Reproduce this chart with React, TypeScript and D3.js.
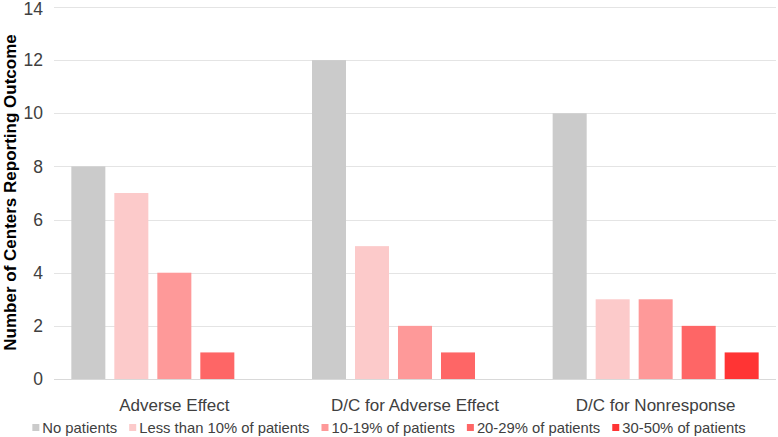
import React, { useEffect, useRef } from "react";
import * as d3 from "d3";

const categories = ["Adverse Effect", "D/C for Adverse Effect", "D/C for Nonresponse"];
const seriesNames = [
  "No patients",
  "Less than 10% of patients",
  "10-19% of patients",
  "20-29% of patients",
  "30-50% of patients",
];
const noPatients = [8, 12, 10];
const lessThan10 = [7, 5, 3];
const pct10to19 = [4, 2, 3];
const pct20to29 = [1, 1, 2];
const pct30to50 = [0, 0, 1];
const seriesColors = ["#cbcbcb", "#fccaca", "#fe9999", "#fe6666", "#ff3434"];
const yTicks = [0, 2, 4, 6, 8, 10, 12, 14];

const W = 778;
const H = 437;
const FONT = "'Liberation Sans', Arial, sans-serif";

export default function App() {
  const ref = useRef<SVGSVGElement>(null);

  useEffect(() => {
    const svg = d3.select(ref.current);
    svg.selectAll("*").remove();
    const seriesValues = [noPatients, lessThan10, pct10to19, pct20to29, pct30to50];

    const left = 54, right = 776, top = 7, bottom = 379;
    const y = d3.scaleLinear().domain([0, 14]).range([bottom, top]);
    const x0 = d3.scaleBand<string>().domain(categories).range([left, right]);
    const x1 = d3
      .scaleBand<string>()
      .domain(seriesNames)
      .range([0, x0.bandwidth()])
      .paddingInner(0.209)
      .paddingOuter(0.403);

    // gridlines
    svg
      .append("g")
      .selectAll("line")
      .data(yTicks)
      .join("line")
      .attr("x1", left)
      .attr("x2", right)
      .attr("y1", (d) => Math.round(y(d)) + 0.5)
      .attr("y2", (d) => Math.round(y(d)) + 0.5)
      .attr("stroke", (d) => (d === 0 ? "#d9d9d9" : "#e4e4e4"))
      .attr("stroke-width", 1);

    // tick labels
    svg
      .append("g")
      .selectAll("text")
      .data(yTicks)
      .join("text")
      .attr("x", 43)
      .attr("y", (d) => Math.max(y(d), 9))
      .attr("dy", "0.35em")
      .attr("text-anchor", "end")
      .attr("font-family", FONT)
      .attr("font-size", 17.5)
      .attr("fill", "#404040")
      .text((d) => String(d));

    // bars
    const g = svg
      .append("g")
      .selectAll("g")
      .data(categories)
      .join("g")
      .attr("transform", (c) => `translate(${x0(c)},0)`);
    g.selectAll("rect")
      .data((c) =>
        seriesNames.map((s, si) => ({ s, si, v: seriesValues[si][categories.indexOf(c)] }))
      )
      .join("rect")
      .attr("x", (d) => x1(d.s)!)
      .attr("width", x1.bandwidth())
      .attr("y", (d) => y(d.v))
      .attr("height", (d) => y(0) - y(d.v))
      .attr("fill", (d) => seriesColors[d.si]);

    // category labels
    svg
      .append("g")
      .selectAll("text")
      .data(categories)
      .join("text")
      .attr("x", (c) => x0(c)! + x0.bandwidth() / 2)
      .attr("y", 405)
      .attr("dy", "0.35em")
      .attr("text-anchor", "middle")
      .attr("font-family", FONT)
      .attr("font-size", 17)
      .attr("fill", "#404040")
      .text((c) => c);

    // y title
    svg
      .append("text")
      .attr("transform", `translate(10,${(33 + 352) / 2}) rotate(-90)`)
      .attr("dy", "0.35em")
      .attr("text-anchor", "middle")
      .attr("font-family", FONT)
      .attr("font-size", 17)
      .attr("font-weight", "bold")
      .attr("fill", "#000")
      .text("Number of Centers Reporting Outcome");

    // legend
    const legend = svg.append("g");
    const items: { w: number; node: any }[] = [];
    seriesNames.forEach((s, i) => {
      const it = legend.append("g");
      it.append("rect")
        .attr("x", 0)
        .attr("y", -4)
        .attr("width", 7)
        .attr("height", 7)
        .attr("fill", seriesColors[i]);
      const t = it
        .append("text")
        .attr("x", 10)
        .attr("y", 0)
        .attr("dy", "0.35em")
        .attr("font-family", FONT)
        .attr("font-size", 14.8)
        .attr("fill", "#404040")
        .text(s);
      const tw = (t.node() as SVGTextElement).getComputedTextLength();
      items.push({ w: 10 + tw, node: it });
    });
    const gap = 12;
    const total = items.reduce((a, b) => a + b.w, 0) + gap * (items.length - 1);
    let cx = W / 2 - total / 2;
    items.forEach((it) => {
      it.node.attr("transform", `translate(${cx},428)`);
      cx += it.w + gap;
    });
  }, []);

  return (
    <svg
      ref={ref}
      width={W}
      height={H}
      style={{ position: "absolute", left: 0, top: 0, background: "#fff" }}
    />
  );
}
